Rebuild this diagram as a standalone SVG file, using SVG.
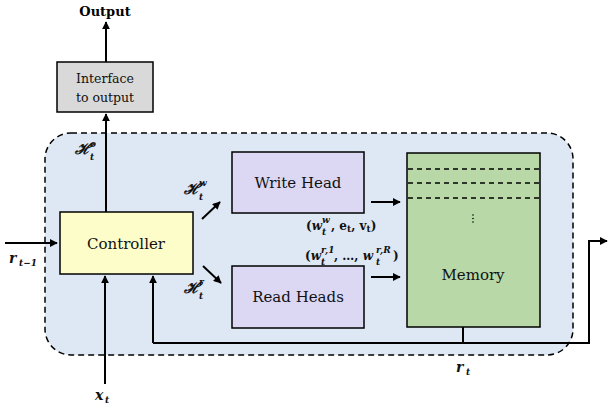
<svg xmlns="http://www.w3.org/2000/svg" width="610" height="413" viewBox="0 0 610 413">
  <style>
    .box { stroke: #000; stroke-width: 1.5; }
    .lbl { font-family: "DejaVu Serif", serif; font-size: 15px; fill: #111; text-anchor: middle; }
    .math { font-family: "DejaVu Serif", serif; font-weight: bold; font-style: italic; font-size: 14px; fill: #111; }
    .mathb { font-family: "DejaVu Serif", serif; font-weight: bold; font-size: 12px; fill: #111; }
    .sub { font-size: 9px; }
    .wire { stroke: #000; stroke-width: 2; fill: none; }
  </style>
  <defs>
    <marker id="arr" viewBox="0 0 10 10" refX="9" refY="5" markerWidth="4" markerHeight="4" orient="auto" markerUnits="strokeWidth">
      <path d="M0,0 L10,5 L0,10 z" fill="#000"/>
    </marker>
  </defs>

  <rect width="610" height="413" fill="#fff"/>

  <!-- recurrent core region -->
  <g id="core">
    <rect x="45" y="133" width="528" height="222" rx="26" ry="26" fill="#dde8f4" stroke="#000" stroke-width="1.5" stroke-dasharray="6,4"/>
  </g>

  <g id="connectors">
    <!-- controller to interface, interface to output -->
    <line class="wire" x1="106" y1="212" x2="106" y2="114" marker-end="url(#arr)"/>
    <line class="wire" x1="106" y1="62" x2="106" y2="22" marker-end="url(#arr)"/>
    <!-- previous read vector in -->
    <line class="wire" x1="5" y1="243" x2="57" y2="243" marker-end="url(#arr)"/>
    <!-- input x_t -->
    <line class="wire" x1="105" y1="384" x2="105" y2="276" marker-end="url(#arr)"/>
    <!-- controller to heads -->
    <line class="wire" x1="202" y1="219" x2="220" y2="202" marker-end="url(#arr)"/>
    <line class="wire" x1="203" y1="266" x2="221" y2="283" marker-end="url(#arr)"/>
    <!-- heads to memory -->
    <line class="wire" x1="371" y1="202" x2="400" y2="202" marker-end="url(#arr)"/>
    <line class="wire" x1="371" y1="277" x2="400" y2="277" marker-end="url(#arr)"/>
    <!-- read feedback loop -->
    <line class="wire" x1="463" y1="327" x2="463" y2="343"/>
    <polyline class="wire" points="153,343 589,343 589,241 607,241" marker-end="url(#arr)"/>
    <line class="wire" x1="153" y1="343" x2="153" y2="276" marker-end="url(#arr)"/>
  </g>

  <g id="interface">
    <rect class="box" x="57" y="62" width="96" height="50" fill="#d9d9d9"/>
    <text class="lbl" x="105" y="83" style="font-size:12.5px">Interface</text>
    <text class="lbl" x="105" y="102" style="font-size:12.5px">to output</text>
  </g>

  <g id="controller">
    <rect class="box" x="60" y="212" width="133" height="62" fill="#fdfdc9"/>
    <text class="lbl" x="126" y="249">Controller</text>
  </g>

  <g id="write-head">
    <rect class="box" x="232" y="152" width="132" height="61" fill="#dcd8f3"/>
    <text class="lbl" x="298" y="188">Write Head</text>
  </g>

  <g id="read-heads">
    <rect class="box" x="232" y="266" width="132" height="62" fill="#dcd8f3"/>
    <text class="lbl" x="298" y="302">Read Heads</text>
  </g>

  <g id="memory">
    <rect class="box" x="407" y="153" width="133" height="174" fill="#b8d8a8"/>
    <g stroke="#000" stroke-width="1.5" stroke-dasharray="5,4">
      <line x1="408" y1="169" x2="539" y2="169"/>
      <line x1="408" y1="183" x2="539" y2="183"/>
      <line x1="408" y1="198" x2="539" y2="198"/>
    </g>
    <g fill="#000">
      <circle cx="473" cy="215" r="0.8"/>
      <circle cx="473" cy="218.5" r="0.8"/>
      <circle cx="473" cy="222" r="0.8"/>
    </g>
    <text class="lbl" x="473" y="280">Memory</text>
  </g>

  <g id="labels">
    <text x="105" y="16" style="font-family:'DejaVu Serif',serif;font-weight:bold;font-size:13px;text-anchor:middle">Output</text>
    <!-- script H with stacked super/subscript -->
    <text class="math" x="75" y="154" style="font-size:15px">ℋ</text>
    <text class="math sub" x="90" y="147">o</text>
    <text class="math sub" x="90" y="160">t</text>

    <text class="math" x="184" y="194" style="font-size:15px">ℋ</text>
    <text class="math sub" x="199" y="186">w</text>
    <text class="math sub" x="199" y="200">t</text>

    <text class="math" x="184" y="293" style="font-size:15px">ℋ</text>
    <text class="math sub" x="199" y="285">r</text>
    <text class="math sub" x="199" y="299">t</text>

    <text class="math" x="9" y="263">r</text>
    <text class="math sub" x="19" y="266">t−1</text>

    <text class="math" x="95" y="400">x</text>
    <text class="math sub" x="105" y="403">t</text>

    <text class="math" x="456" y="372">r</text>
    <text class="math sub" x="466" y="375">t</text>

    <!-- write head output tuple -->
    <text class="mathb" x="306" y="230">(<tspan font-style="italic">w</tspan></text>
    <text class="math sub" x="322" y="223">w</text>
    <text class="math sub" x="322" y="235">t</text>
    <text class="mathb" x="331" y="230">, e<tspan class="sub" dy="2">t</tspan><tspan dy="-2">, v</tspan><tspan class="sub" dy="2">t</tspan><tspan dy="-2">)</tspan></text>

    <!-- read head weighting tuple -->
    <text class="mathb" x="305" y="260">(<tspan font-style="italic">w</tspan></text>
    <text class="math sub" x="321" y="253">r,1</text>
    <text class="math sub" x="321" y="265">t</text>
    <text class="mathb" x="334" y="260">, …, <tspan font-style="italic">w</tspan></text>
    <text class="math sub" x="376" y="253">r,R</text>
    <text class="math sub" x="376" y="265">t</text>
    <text class="mathb" x="393" y="260">)</text>
  </g>
</svg>
